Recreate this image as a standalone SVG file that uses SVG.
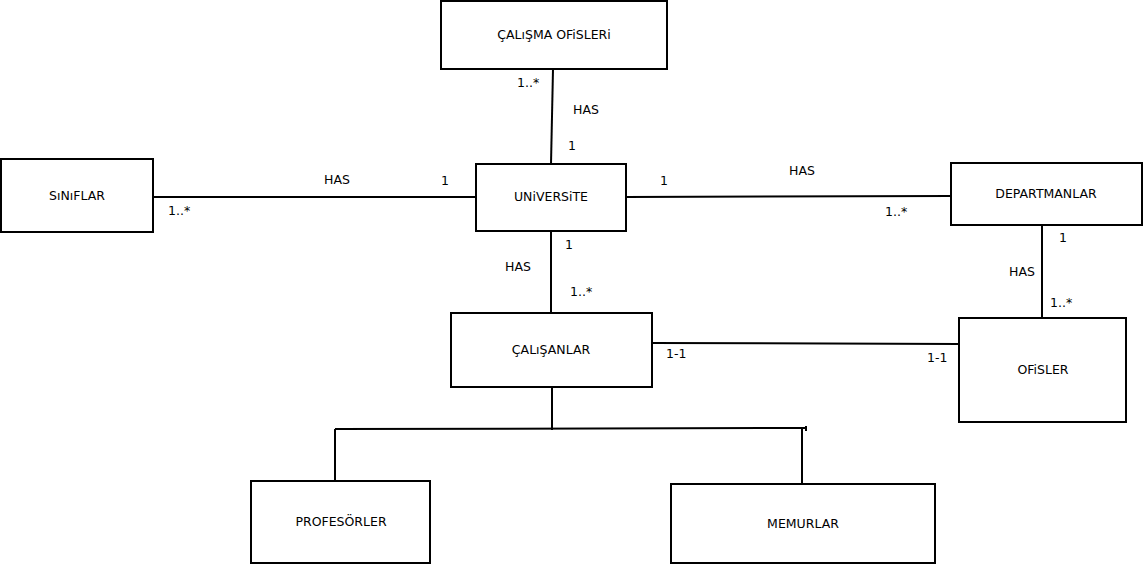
<svg xmlns="http://www.w3.org/2000/svg" width="1143" height="565" viewBox="0 0 1143 565">
<style>
.box{fill:#fff;stroke:#000;stroke-width:2}
.ln{fill:none;stroke:#000;stroke-width:2}
.t{font-family:"DejaVu Sans",sans-serif;font-size:12.5px;fill:#000}
.c{text-anchor:middle}
</style>
<rect width="1143" height="565" fill="#fff"/>
<g id="connectors">
<path class="ln" d="M553 69 L551 164"/>
<path class="ln" d="M153 197 L476 197"/>
<path class="ln" d="M626 197 L951 196"/>
<path class="ln" d="M551 231 L551 313"/>
<path class="ln" d="M1042 225 L1042 318"/>
<path class="ln" d="M652 343 L959 344"/>
<path class="ln" d="M552 387 L552 430"/>
<path class="ln" d="M335 429 L806 428"/>
<path class="ln" d="M335 429 L335 481"/>
<path class="ln" d="M802 428 L802 484"/>
<path class="ln" d="M806 426 L806 431" stroke-width="1"/>
<text class="t" x="517" y="87">1..*</text>
<text class="t" x="573" y="114">HAS</text>
<text class="t" x="568" y="150">1</text>
<text class="t" x="324" y="184">HAS</text>
<text class="t" x="441" y="185">1</text>
<text class="t" x="168" y="215">1..*</text>
<text class="t" x="660" y="185">1</text>
<text class="t" x="789" y="175">HAS</text>
<text class="t" x="885" y="216">1..*</text>
<text class="t" x="1059" y="242">1</text>
<text class="t" x="1009" y="276">HAS</text>
<text class="t" x="1050" y="307">1..*</text>
<text class="t" x="565" y="249">1</text>
<text class="t" x="505" y="271">HAS</text>
<text class="t" x="570" y="296">1..*</text>
<text class="t" x="666" y="358">1-1</text>
<text class="t" x="927" y="362">1-1</text>
</g>
<g id="calisma-ofisleri"><rect class="box" x="441" y="1" width="226" height="68"/><text class="t c" x="554" y="39">ÇALıŞMA OFiSLERi</text></g>
<g id="siniflar"><rect class="box" x="1" y="159" width="152" height="73"/><text class="t c" x="77" y="200">SıNıFLAR</text></g>
<g id="universite"><rect class="box" x="476" y="164" width="150" height="67"/><text class="t c" x="551" y="201">UNiVERSiTE</text></g>
<g id="departmanlar"><rect class="box" x="951" y="163" width="191" height="62"/><text class="t c" x="1046" y="198">DEPARTMANLAR</text></g>
<g id="calisanlar"><rect class="box" x="451" y="313" width="201" height="74"/><text class="t c" x="551" y="354">ÇALıŞANLAR</text></g>
<g id="ofisler"><rect class="box" x="959" y="318" width="167" height="104"/><text class="t c" x="1043" y="374">OFiSLER</text></g>
<g id="profesorler"><rect class="box" x="251" y="481" width="179" height="82"/><text class="t c" x="341" y="526">PROFESÖRLER</text></g>
<g id="memurlar"><rect class="box" x="671" y="484" width="264" height="79"/><text class="t c" x="803" y="528">MEMURLAR</text></g>
</svg>
